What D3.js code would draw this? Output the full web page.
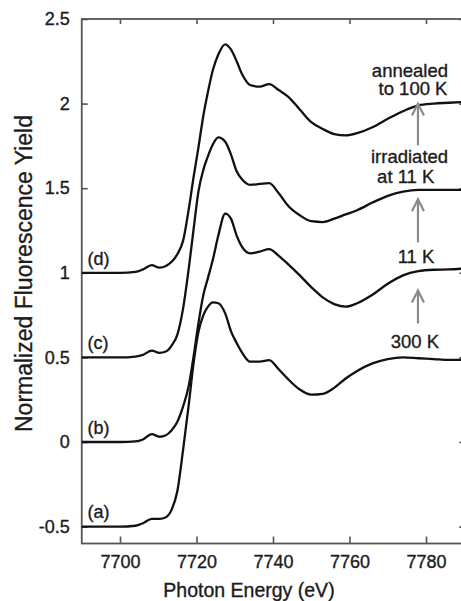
<!DOCTYPE html>
<html>
<head>
<meta charset="utf-8">
<script src="https://cdn.jsdelivr.net/npm/d3@7"></script>
<style>
  body { margin: 0; background: #fff; }
  svg text { font-family: "Liberation Sans", Arial, Helvetica, sans-serif; fill: #1c1c1c;
             stroke: #1c1c1c; stroke-width: 0.35px; }
</style>
</head>
<body>
<script>
// Photon energy grid (eV) shared by all four spectra
var energy = [7690, 7700, 7704, 7706, 7708.3, 7710.3, 7712, 7713.5, 7715, 7716.5,
              7718, 7719.2, 7720.5, 7721.8, 7723, 7724.3, 7725.7, 7727.5, 7729, 7730.5,
              7732, 7734, 7736.5, 7739, 7741.5, 7744, 7747, 7750, 7753, 7756,
              7759, 7762, 7766, 7770, 7774, 7778, 7782, 7786, 7790];

// (a) 300 K
var trace300K = [-0.50, -0.50, -0.495, -0.48, -0.455, -0.455, -0.445, -0.40, -0.29, -0.045,
                 0.225, 0.46, 0.65, 0.75, 0.80, 0.825, 0.82, 0.76, 0.655, 0.585,
                 0.525, 0.475, 0.475, 0.484, 0.43, 0.37, 0.31, 0.28, 0.285, 0.32,
                 0.375, 0.42, 0.465, 0.49, 0.50, 0.495, 0.49, 0.485, 0.485];

// (b) 11 K
var trace11K = [0.0, 0.0, 0.003, 0.015, 0.047, 0.031, 0.04, 0.07, 0.12, 0.21,
                0.335, 0.50, 0.70, 0.87, 0.97, 1.08, 1.22, 1.35, 1.32, 1.22,
                1.15, 1.115, 1.125, 1.14, 1.10, 1.05, 0.985, 0.915, 0.855, 0.815,
                0.80, 0.82, 0.87, 0.935, 0.985, 1.01, 1.018, 1.02, 1.025];

// (c) irradiated at 11 K
var traceIrradiated = [0.50, 0.50, 0.505, 0.515, 0.54, 0.527, 0.535, 0.57, 0.635, 0.79,
                       1.03, 1.25, 1.48, 1.61, 1.69, 1.76, 1.80, 1.775, 1.70, 1.60,
                       1.55, 1.52, 1.525, 1.53, 1.47, 1.395, 1.34, 1.305, 1.30, 1.32,
                       1.345, 1.37, 1.415, 1.455, 1.48, 1.49, 1.49, 1.49, 1.49];

// (d) annealed to 100 K
var traceAnnealed = [1.0, 1.0, 1.005, 1.02, 1.045, 1.03, 1.04, 1.065, 1.11, 1.19,
                     1.38, 1.56, 1.74, 1.93, 2.07, 2.20, 2.29, 2.35, 2.32, 2.25,
                     2.17, 2.11, 2.10, 2.115, 2.08, 2.04, 1.965, 1.89, 1.85, 1.82,
                     1.812, 1.825, 1.86, 1.91, 1.955, 1.99, 2.0, 2.005, 2.01];

var traceNames = ["(a)", "(b)", "(c)", "(d)"];
var traceOffsets = [-0.5, 0, 0.5, 1];

var xTicks = [7700, 7720, 7740, 7760, 7780];
var yTicks = [-0.5, 0, 0.5, 1, 1.5, 2, 2.5];
var yTickLabels = ["-0.5", "0", "0.5", "1", "1.5", "2", "2.5"];

var noteText = ["annealed", "to 100 K", "irradiated", "at 11 K", "11 K", "300 K"];

// Global layout
var width = 461;
var height = 601;

var svg = d3.select("body")
            .append("svg")
            .attr("width", width)
            .attr("height", height);

var xScale = d3.scaleLinear()
               .domain([7690, 7790])
               .range([81.75, 464.25]);

var yScale = d3.scaleLinear()
               .domain([-0.6, 2.5])
               .range([543.5, 19]);

// Frame
svg.append("rect")
   .attr("x", xScale(7690))
   .attr("y", yScale(2.5))
   .attr("width", xScale(7790) - xScale(7690))
   .attr("height", yScale(-0.6) - yScale(2.5))
   .attr("fill", "none")
   .attr("stroke", "#555")
   .attr("stroke-width", 1.8);

// Axes (inward ticks)
var xAxis = d3.axisBottom(xScale)
              .tickValues(xTicks)
              .tickSize(-7)
              .tickPadding(12)
              .tickFormat(d3.format("d"));

var yAxis = d3.axisLeft(yScale)
              .tickValues(yTicks)
              .tickSize(-6)
              .tickPadding(12)
              .tickFormat(function(d, i) { return yTickLabels[i]; });

svg.append("g")
   .attr("class", "axis x-axis")
   .attr("transform", "translate(0," + yScale(-0.6) + ")")
   .call(xAxis);

svg.append("g")
   .attr("class", "axis y-axis")
   .attr("transform", "translate(" + xScale(7690) + ",0)")
   .call(yAxis);

svg.append("g")
   .attr("class", "axis")
   .attr("transform", "translate(0," + yScale(2.5) + ")")
   .call(d3.axisTop(xScale).tickValues(xTicks).tickSize(-5).tickFormat(""));

svg.append("g")
   .attr("class", "axis")
   .attr("transform", "translate(" + xScale(7790) + ",0)")
   .call(d3.axisRight(yScale).tickValues(yTicks).tickSize(-5).tickFormat(""));

svg.selectAll(".axis path").remove();
svg.selectAll(".axis line")
   .attr("stroke", "#555")
   .attr("stroke-width", 1.6);
svg.selectAll(".axis text")
   .attr("font-size", "18px")
   .attr("font-family", "Liberation Sans, Arial, sans-serif")
   .attr("fill", "#1c1c1c");

// Axis titles
svg.append("text")
   .attr("transform", "translate(32,273.5) rotate(-90)")
   .attr("text-anchor", "middle")
   .attr("font-size", "23px")
   .text("Normalized Fluorescence Yield");

svg.append("text")
   .attr("x", 249)
   .attr("y", 597)
   .attr("text-anchor", "middle")
   .attr("font-size", "19.5px")
   .text("Photon Energy (eV)");

// Spectra
var traces = [trace300K, trace11K, traceIrradiated, traceAnnealed];

var line = d3.line()
             .x(function(d) { return xScale(d[0]); })
             .y(function(d) { return yScale(d[1]); })
             .curve(d3.curveMonotoneX);

svg.selectAll("path.trace")
   .data(traces)
   .enter()
   .append("path")
   .attr("class", "trace")
   .attr("d", function(t) {
     return line(energy.map(function(e, i) { return [e, t[i]]; }));
   })
   .attr("fill", "none")
   .attr("stroke", "#111")
   .attr("stroke-width", 2.3)
   .attr("stroke-linejoin", "round");

// Trace labels (a)-(d)
svg.selectAll("text.trace-label")
   .data(traceNames)
   .enter()
   .append("text")
   .attr("class", "trace-label")
   .attr("x", xScale(7691.5))
   .attr("y", function(d, i) { return yScale(traceOffsets[i] + 0.048); })
   .attr("font-size", "18px")
   .text(function(d) { return d; });

// Temperature notes
var notePos = [[7775.8, 2.16], [7776.6, 2.048], [7775.7, 1.65],
               [7774.7, 1.529], [7777.4, 1.057], [7777.1, 0.555]];

svg.selectAll("text.note")
   .data(noteText)
   .enter()
   .append("text")
   .attr("class", "note")
   .attr("x", function(d, i) { return xScale(notePos[i][0]); })
   .attr("y", function(d, i) { return yScale(notePos[i][1]); })
   .attr("text-anchor", "middle")
   .attr("font-size", "18.5px")
   .text(function(d) { return d; });

// Gray arrows between the spectra
var arrows = [[1.753, 2.0], [1.18, 1.435], [0.70, 0.895]];
var arrowE = 7777.9;

arrows.forEach(function(a) {
  var x = xScale(arrowE);
  var y0 = yScale(a[0]);
  var y1 = yScale(a[1]);
  svg.append("line")
     .attr("x1", x).attr("x2", x)
     .attr("y1", y0).attr("y2", y1 + 2)
     .attr("stroke", "#8a8a8a")
     .attr("stroke-width", 2.2);
  svg.append("path")
     .attr("d", "M" + (x - 6) + "," + (y1 + 12) + "L" + x + "," + y1 + "L" + (x + 6) + "," + (y1 + 12))
     .attr("fill", "none")
     .attr("stroke", "#8a8a8a")
     .attr("stroke-width", 2.2);
});
</script>
</body>
</html>
